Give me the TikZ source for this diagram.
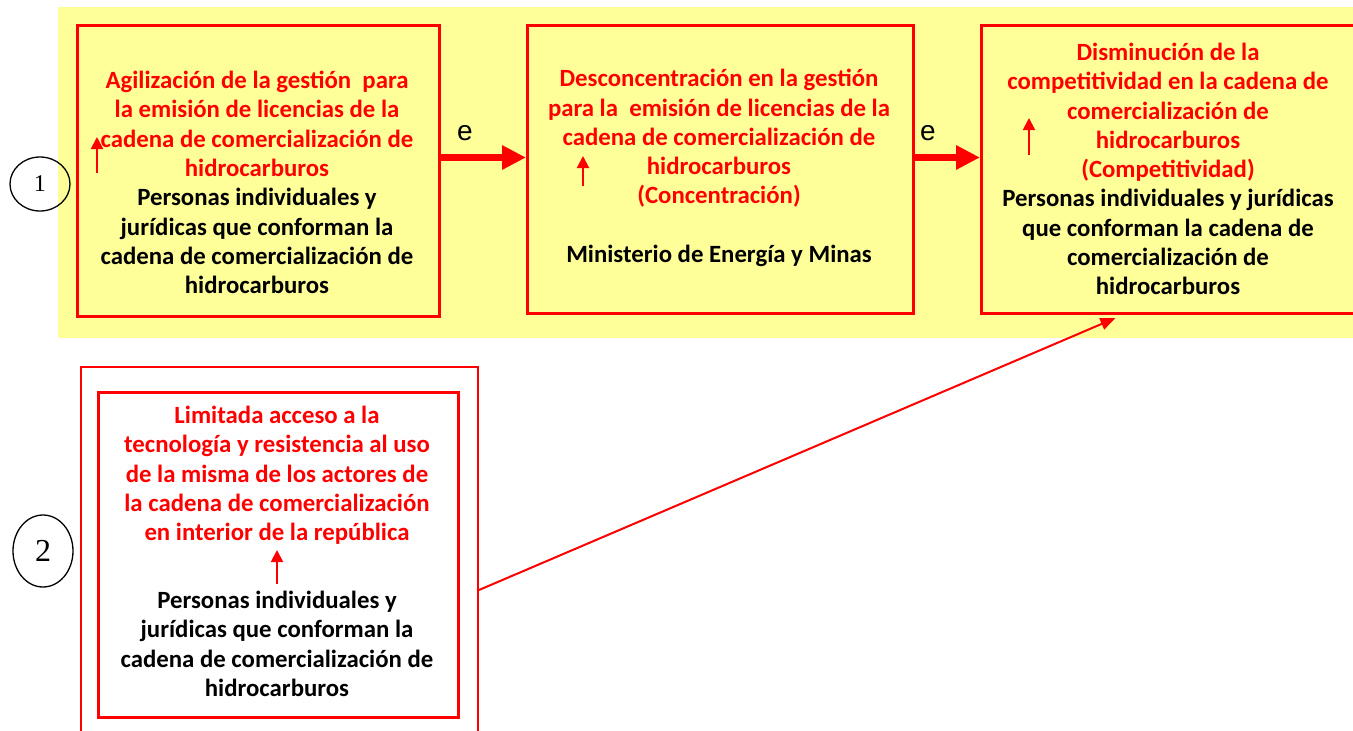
\documentclass[tikz,border=0pt]{standalone}
\usepackage{fontspec}
\setmainfont{Carlito}
\newfontfamily\efont{Liberation Sans}
\newfontfamily\nfont{Liberation Serif}
\usetikzlibrary{arrows.meta,shapes.geometric}
\definecolor{ybg}{RGB}{255,255,153}
\definecolor{rd}{RGB}{255,0,0}
\begin{document}
\begin{tikzpicture}[x=1pt,y=-1pt,
  box/.style={draw=rd,line width=3pt,fill=ybg,anchor=north west,inner sep=0pt},
  txt/.style={align=center,inner sep=0pt,font=\bfseries\fontsize{24.8}{29.3}\selectfont},
  bigarrow/.style={draw=rd,line width=7pt,-{Triangle[length=24pt,width=23pt]}},
  smallarrow/.style={draw=rd,line width=2pt,-{Triangle[length=12pt,width=12pt]}},
  conn/.style={draw=rd,line width=2pt,-{Triangle[length=15pt,width=12pt]}},
  elab/.style={font=\efont\fontsize{28}{30}\selectfont,inner sep=0pt},
  numc/.style={draw=black,line width=1.3pt,shape=ellipse,inner sep=0pt}
]
\useasboundingbox (0,0) rectangle (1353,731);
\fill[ybg] (58,7) rectangle (1365,338);
% boxes
\node[box,minimum width=362pt,minimum height=291pt] (b1) at (76,24) {};
\node[box,minimum width=386pt,minimum height=288pt] (b2) at (526,24) {};
\node[box,minimum width=376pt,minimum height=288pt] (b3) at (980,24) {};
\node[box,draw=rd,line width=2pt,fill=white,minimum width=397pt,minimum height=446pt] (o2) at (80,366) {};
\node[box,fill=white,minimum width=360pt,minimum height=325pt] (i2) at (97,391) {};
% texts
\node[txt] (t1) at (257,182.5) {\textcolor{rd}{Agilización de la gestión~ para}\\\textcolor{rd}{la emisión de licencias de la}\\\textcolor{rd}{cadena de comercialización de}\\\textcolor{rd}{hidrocarburos}\\Personas individuales y\\jurídicas que conforman la\\cadena de comercialización de\\hidrocarburos};
\node[txt] (t2) at (719,168) {\textcolor{rd}{Desconcentración en la gestión}\\\textcolor{rd}{para la~ emisión de licencias de la}\\\textcolor{rd}{cadena de comercialización de}\\\textcolor{rd}{hidrocarburos}\\\textcolor{rd}{(Concentración)}\\[29.3pt]Ministerio de Energía y Minas};
\node[txt] (t3) at (1168,169) {\textcolor{rd}{Disminución de la}\\\textcolor{rd}{competitividad en la cadena de}\\\textcolor{rd}{comercialización de}\\\textcolor{rd}{hidrocarburos}\\\textcolor{rd}{(Competitividad)}\\Personas individuales y jurídicas\\que conforman la cadena de\\comercialización de\\hidrocarburos};
\node[txt,text=rd] (t4r) at (277,475.5) {Limitada acceso a la\\tecnología y resistencia al uso\\de la misma de los actores de\\la cadena de comercialización\\en interior de la república};
\node[txt] (t4b) at (277,644) {Personas individuales y\\jurídicas que conforman la\\cadena de comercialización de\\hidrocarburos};
% number circles
\node[numc,minimum width=60pt,minimum height=54pt] (n1) at (40,184) {\nfont\fontsize{24}{26}\selectfont 1};
\node[numc,minimum width=60pt,minimum height=72pt] (n2) at (43,551) {\nfont\fontsize{32}{34}\selectfont 2};
% thick arrows
\draw[bigarrow] ([yshift=12pt]b2.west -| b1.east) -- ([yshift=12pt]b2.west);
\draw[bigarrow] ([yshift=12pt]b2.east) -- ([yshift=12pt]b3.west);
\node[elab] (e1) at (465,133) {e};
\node[elab] (e2) at (928,133) {e};
% small arrows
\coordinate (s1a) at (97,173); \coordinate (s1b) at (97,137);
\coordinate (s2a) at (583,186); \coordinate (s2b) at (583,156);
\coordinate (s3a) at (1029,155); \coordinate (s3b) at (1029,118);
\coordinate (s4a) at (277,584); \coordinate (s4b) at (277,550);
\draw[smallarrow] (s1a) -- (s1b);
\draw[smallarrow] (s2a) -- (s2b);
\draw[smallarrow] (s3a) -- (s3b);
\draw[smallarrow] (s4a) -- (s4b);
% connector
\draw[conn] (o2.east) -- ([xshift=-54pt,yshift=-3pt]b3.south);
\end{tikzpicture}
\end{document}
